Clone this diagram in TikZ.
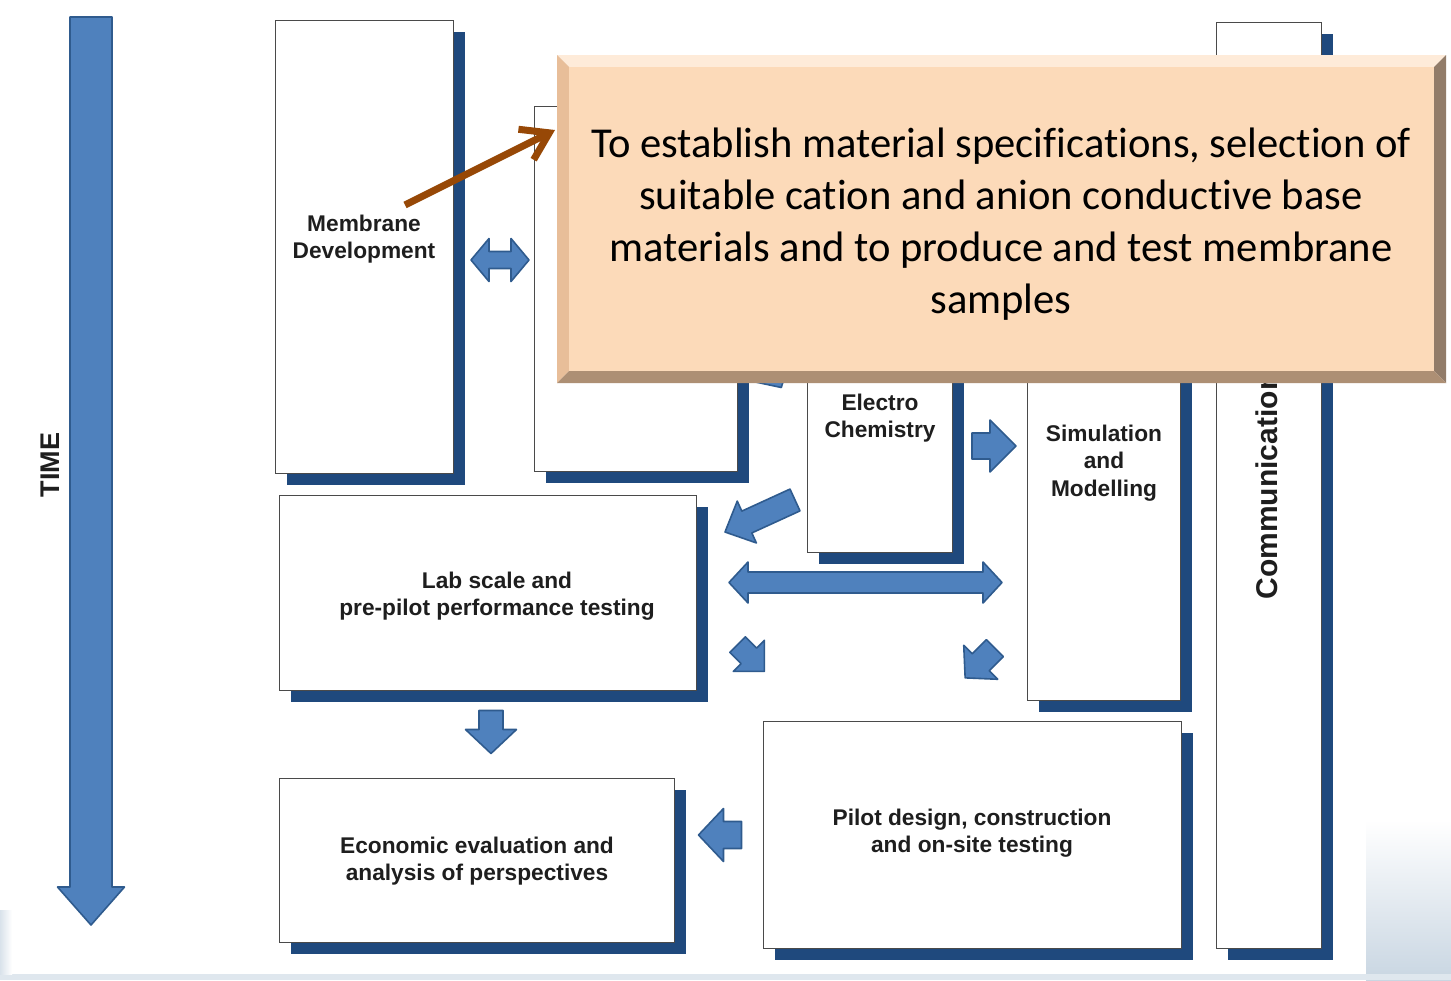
\documentclass[tikz,border=0pt]{standalone}
\usepackage{fontspec}
\setmainfont{Liberation Sans}
\newfontfamily\calfont[Ligatures=NoCommon]{Carlito}
\usetikzlibrary{shadows,arrows.meta}
\definecolor{arrowblue}{HTML}{4F81BD}
\definecolor{arrowedge}{HTML}{2F5B8E}
\definecolor{shadowblue}{HTML}{1F497D}
\definecolor{boxline}{HTML}{4A4A4A}
\definecolor{textgray}{HTML}{1E1E1E}
\definecolor{calloutface}{HTML}{FCDAB9}
\definecolor{bevtop}{HTML}{FEEBD9}
\definecolor{bevleft}{HTML}{E8BE99}
\definecolor{bevright}{HTML}{927C69}
\definecolor{bevbottom}{HTML}{AD8F74}
\definecolor{brownarrow}{HTML}{974806}
\definecolor{photoblue}{HTML}{C9D6E2}
\newcommand\SingleBlockArrow[7]{%
  \path[blockarrow,shift={(#1,#2)},rotate=#3]
   ({-(#4)/2},{-(#5)/2}) -- ({(#4)/2-(#7)},{-(#5)/2}) -- ({(#4)/2-(#7)},{-(#6)/2})
   -- ({(#4)/2},0) -- ({(#4)/2-(#7)},{(#6)/2}) -- ({(#4)/2-(#7)},{(#5)/2})
   -- ({-(#4)/2},{(#5)/2}) -- cycle;}
\newcommand\DoubleBlockArrow[7]{%
  \path[blockarrow,shift={(#1,#2)},rotate=#3]
   ({-(#4)/2},0) -- ({-(#4)/2+(#7)},{-(#6)/2}) -- ({-(#4)/2+(#7)},{-(#5)/2})
   -- ({(#4)/2-(#7)},{-(#5)/2}) -- ({(#4)/2-(#7)},{-(#6)/2}) -- ({(#4)/2},0)
   -- ({(#4)/2-(#7)},{(#6)/2}) -- ({(#4)/2-(#7)},{(#5)/2}) -- ({-(#4)/2+(#7)},{(#5)/2})
   -- ({-(#4)/2+(#7)},{(#6)/2}) -- cycle;}
\tikzset{
  blockarrow/.style={fill=arrowblue,draw=arrowedge,line width=1.6pt,line join=round},
  box/.style={draw=boxline,fill=white,line width=1.1pt,anchor=north west,inner sep=0pt,
    drop shadow={fill=shadowblue,opacity=1,shadow xshift=11pt,shadow yshift=-11pt}},
  boxtext/.style={align=center,text=textgray,inner sep=0pt,
    font=\fontsize{22.7}{27.5}\selectfont\bfseries},
  callouttext/.style={align=center,text=black,inner sep=0pt,
    font=\calfont\fontsize{42.6}{51.8}\selectfont},
}
\begin{document}
\begin{tikzpicture}[x=1pt,y=-1pt]
\useasboundingbox (0,0) rectangle (1451,980);
\fill[white] (0,0) rectangle (1451,980);
% background photo hints
\shade[top color=white,bottom color=photoblue] (1366,820) rectangle (1451,980);
\fill[photoblue!60] (0,974) rectangle (1451,980);
\shade[left color=photoblue!70,right color=white] (0,910) rectangle (12,974);

% TIME arrow
\SingleBlockArrow{91}{471}{-90}{908}{42}{67}{38}
\node[rotate=90,font=\fontsize{27}{30}\selectfont\bfseries,text=textgray] (time) at (50,465) {TIME};

% boxes
\node[box,minimum width=178pt,minimum height=453pt] (mem) at (275,20) {};
\node[box,minimum width=203pt,minimum height=365pt] (b2) at (534,106) {};
\node[box,minimum width=145pt,minimum height=272pt] (elec) at (807,280) {};
\node[box,minimum width=153pt,minimum height=478pt] (sim) at (1027,222) {};
\node[box,minimum width=105pt,minimum height=926pt] (comm) at (1216,22) {};
\node[box,minimum width=417pt,minimum height=195pt] (lab) at (279,495) {};
\node[box,minimum width=395pt,minimum height=164pt] (econ) at (279,778) {};
\node[box,minimum width=418pt,minimum height=227pt] (pilot) at (763,721) {};

% box texts
\node[boxtext] (memtext) at (364,239) {Membrane\\Development};
\node[boxtext] (electext) at (880,418) {Electro\\Chemistry};
\node[boxtext] (simtext) at (1104,463) {Simulation\\and\\Modelling};
\node[boxtext] (labtext) at (497,596) {Lab scale and\\pre-pilot performance testing};
\node[boxtext] (econtext) at (477,861) {Economic evaluation and\\analysis of perspectives};
\node[boxtext] (pilottext) at (972,833) {Pilot design, construction\\and on-site testing};
\node[boxtext,rotate=90,font=\fontsize{30}{32}\selectfont\bfseries] (commtext) at (1267,486) {Communication};

% block arrows
\DoubleBlockArrow{500}{260}{0}{58}{17}{43}{18}
\SingleBlockArrow{770}{368}{-60}{45}{22}{40}{18}
\SingleBlockArrow{994}{446}{0}{44}{26}{52}{26}
\SingleBlockArrow{760}{516}{204.6}{77}{24}{46}{24}
\DoubleBlockArrow{865.5}{582.5}{0}{273}{21}{41}{19}
\SingleBlockArrow{751}{658}{-45}{38}{22}{44}{22}
\SingleBlockArrow{980}{663}{225}{42}{24}{48}{22}
\SingleBlockArrow{491}{732}{-90}{43}{24}{51}{24}
\SingleBlockArrow{720}{835}{180}{43}{27}{53}{25}

% callout with bevel
\fill[bevtop] (557,55) -- (1446,55) -- (1434,67) -- (569,67) -- cycle;
\fill[bevleft] (557,55) -- (569,67) -- (569,371) -- (557,383) -- cycle;
\fill[bevright] (1446,55) -- (1446,383) -- (1434,371) -- (1434,67) -- cycle;
\fill[bevbottom] (557,383) -- (1446,383) -- (1434,371) -- (569,371) -- cycle;
\fill[calloutface] (569,67) rectangle (1434,371);
\node[callouttext] (callout) at (1001,224) {To establish material specifications, selection of\\suitable cation and anion conductive base\\materials and to produce and test membrane\\samples};

% brown pointer arrow
\coordinate (bstart) at (405,205);
\coordinate (btip) at (555,130);
\draw[brownarrow,line width=7pt,-{Straight Barb[length=26pt,width=34pt]}] (bstart) -- (btip);
\end{tikzpicture}
\end{document}
